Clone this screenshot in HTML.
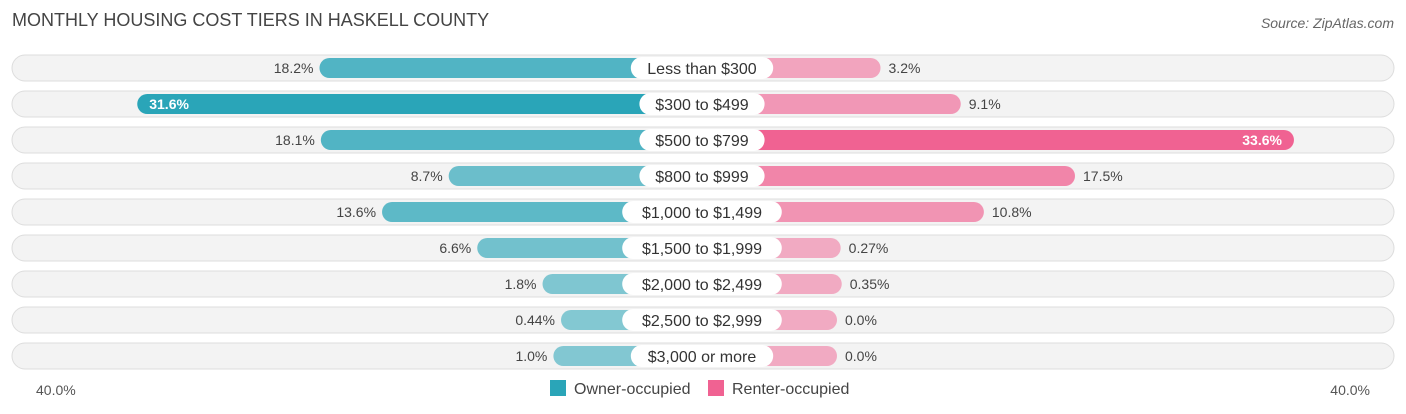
<!DOCTYPE html>
<html><head><meta charset="utf-8"><style>
body{margin:0;width:1406px;height:414px;background:#fff;font-family:"Liberation Sans",sans-serif;overflow:hidden;position:relative}
.t{position:absolute;white-space:nowrap}
</style></head><body>
<div class="t" style="left:12px;top:10px;font-size:18px;color:#444">MONTHLY HOUSING COST TIERS IN HASKELL COUNTY</div>
<div class="t" style="right:12px;top:15px;font-size:14px;color:#666;font-style:italic">Source: ZipAtlas.com</div>
<svg id="c" width="1406" height="414" style="position:absolute;left:0;top:0"></svg>
<script>
const categories=["Less than $300","$300 to $499","$500 to $799","$800 to $999","$1,000 to $1,499","$1,500 to $1,999","$2,000 to $2,499","$2,500 to $2,999","$3,000 or more"];
const owner=[18.2,31.6,18.1,8.7,13.6,6.6,1.8,0.44,1.0];
const renter=[3.2,9.1,33.6,17.5,10.8,0.27,0.35,0.0,0.0];
const ownerLabels=["18.2%","31.6%","18.1%","8.7%","13.6%","6.6%","1.8%","0.44%","1.0%"];
const renterLabels=["3.2%","9.1%","33.6%","17.5%","10.8%","0.27%","0.35%","0.0%","0.0%"];
const axisMax=40;
const svg=document.getElementById('c');const NS='http://www.w3.org/2000/svg';
const cx=702,base=135,scale=13.6;
const yRow=i=>68+i*36;
const xL=v=>cx-base-v*scale, xR=v=>cx+base+v*scale;
function mk(t,a,p){const e=document.createElementNS(NS,t);for(const k in a)e.setAttribute(k,a[k]);(p||svg).appendChild(e);return e;}
const maxO=Math.max(...owner),maxR=Math.max(...renter);
categories.forEach((c,i)=>{
 const y=yRow(i);
 const g=mk('g',{});
 
 
 const bg=mk('rect',{x:12,y:y-13,width:1382,height:26,rx:13,fill:'#f3f3f3',stroke:'#ddd','stroke-width':1},g);
 
 
 const ao=0.55+0.45*owner[i]/maxO, ar=0.5+0.5*renter[i]/maxR;
 const ob=mk('rect',{x:xL(owner[i]),y:y-10,width:cx-xL(owner[i]),height:20,rx:10,fill:'#2aa5b8','fill-opacity':ao},g);
 
 
 const rb=mk('rect',{x:cx,y:y-10,width:xR(renter[i])-cx,height:20,rx:10,fill:'#f06292','fill-opacity':ar},g);
 
 
 const inside=owner[i]>25;
 const ot=mk('text',{x:inside?xL(owner[i])+12:xL(owner[i])-6,y:y+5,'font-size':14,fill:inside?'#fff':'#444','text-anchor':inside?'start':'end','font-weight':inside?'bold':'normal'},g);
 ot.textContent=ownerLabels[i];
 
 
 const rin=renter[i]>25;
 const rt=mk('text',{x:rin?xR(renter[i])-12:xR(renter[i])+8,y:y+5,'font-size':14,fill:rin?'#fff':'#444','text-anchor':rin?'end':'start','font-weight':rin?'bold':'normal'},g);
 rt.textContent=renterLabels[i];
 
 
 const w=c.length*8.6+22;
 const pill=mk('rect',{x:cx-w/2,y:y-11,width:w,height:22,rx:11,fill:'#fff'},g);
 
 
 const lt=mk('text',{x:cx,y:y+6,'font-size':16,fill:'#333','text-anchor':'middle'},g);
 lt.textContent=c;
 
 
});
const al=mk('text',{x:36,y:395,'font-size':14,fill:'#555'});al.textContent=axisMax.toFixed(1)+'%';


const ar2=mk('text',{x:1370,y:395,'font-size':14,fill:'#555','text-anchor':'end'});ar2.textContent=axisMax.toFixed(1)+'%';


</script>
<div class="t" style="left:550px;top:380px;font-size:16px;color:#444"><span style="display:inline-block;width:16px;height:16px;background:#2aa5b8;vertical-align:-2px;margin-right:8px"></span>Owner-occupied</div>
<div class="t" style="left:708px;top:380px;font-size:16px;color:#444"><span style="display:inline-block;width:16px;height:16px;background:#f06292;vertical-align:-2px;margin-right:8px"></span>Renter-occupied</div>
</body></html>
